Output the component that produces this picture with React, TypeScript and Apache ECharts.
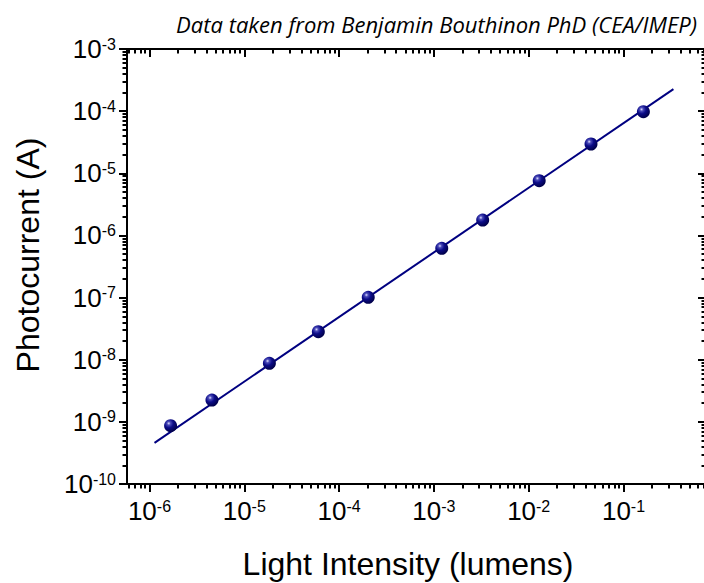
import React, { useEffect, useRef } from "react";
import * as echarts from "echarts";

// ---- data ----
const intensity = [1.67e-6, 4.56e-6, 1.84e-5, 6.04e-5, 2.03e-4, 1.21e-3, 3.27e-3, 1.29e-2, 4.54e-2, 0.162];
const photocurrent = [8.67e-10, 2.24e-9, 8.75e-9, 2.82e-8, 1.01e-7, 6.21e-7, 1.77e-6, 7.6e-6, 2.96e-5, 9.8e-5];
const fitIntensity = [1.13e-6, 0.336];
const fitCurrent = [4.6e-10, 2.26e-4];

// ---- axes (log10 units) ----
const xDecades = [-6, -5, -4, -3, -2, -1];
const yDecades = [-10, -9, -8, -7, -6, -5, -4, -3];
const minorMultipliers = [2, 3, 4, 5, 6, 7, 8, 9];
const xRange = [-6.237, -0.13];
const yRange = [-10, -3];

const titleText = "Data taken from Benjamin Bouthinon PhD (CEA/IMEP)";
const xTitle = "Light Intensity (lumens)";
const yTitle = "Photocurrent (A)";

function minorTicks(range: number[]) {
  const out: number[] = [];
  for (let d = Math.floor(range[0]) - 1; d <= Math.ceil(range[1]); d++) {
    for (const m of minorMultipliers) {
      const v = d + Math.log10(m);
      if (v > range[0] && v < range[1]) out.push(v);
    }
  }
  return out;
}

const FONT = "Liberation Sans";
const NAVY = "#000080";

const rich = {
  base: { fontSize: 26, lineHeight: 26, fontFamily: FONT, color: "#000", verticalAlign: "bottom" },
  sup: { fontSize: 16, lineHeight: 16, fontFamily: FONT, color: "#000", verticalAlign: "top", padding: [0, 0, 17, 0] },
};
const fmt = (v: number) => `{base|10}{sup|${Math.round(v)}}`;

export default function App() {
  const ref = useRef<HTMLDivElement>(null);
  useEffect(() => {
    if (!ref.current) return;
    const chart = echarts.init(ref.current, undefined, { renderer: "svg" });
    const gridBox = { left: 127, top: 49, width: 579, height: 435, outerBoundsMode: "none", containLabel: false };
    const xMinor = minorTicks(xRange);
    const yMinor = minorTicks(yRange);
    const lineStyle = { color: "#000", width: 2 };

    const labelBase = { fontSize: 26, fontFamily: FONT, color: "#000", rich };

    const mkX = (gridIndex: number, position: string, major: boolean, showLine: boolean, inside: boolean, labels: boolean) => ({
      type: "value",
      gridIndex,
      position,
      min: xRange[0],
      max: xRange[1],
      axisLine: { show: showLine, onZero: false, lineStyle },
      axisTick: {
        show: true,
        inside,
        length: major ? 8 : 4.5,
        lineStyle: { color: "#000", width: 2 },
        customValues: major ? xDecades : xMinor,
      },
      axisLabel: labels
        ? { show: true, ...labelBase, customValues: xDecades, formatter: fmt, margin: 14, showMinLabel: true, showMaxLabel: true }
        : { show: false },
      splitLine: { show: false },
    });
    const mkY = (gridIndex: number, position: string, major: boolean, showLine: boolean, inside: boolean, labels: boolean) => ({
      type: "value",
      gridIndex,
      position,
      min: yRange[0],
      max: yRange[1],
      axisLine: { show: showLine, onZero: false, lineStyle },
      axisTick: {
        show: true,
        inside,
        length: major ? 8 : 4.5,
        lineStyle: { color: "#000", width: 2 },
        customValues: major ? yDecades : yMinor,
      },
      axisLabel: labels
        ? { show: true, ...labelBase, customValues: yDecades, formatter: fmt, margin: 11, showMinLabel: true, showMaxLabel: true }
        : { show: false },
      splitLine: { show: false },
    });

    const sphere = new echarts.graphic.RadialGradient(0.36, 0.32, 0.68, [
      { offset: 0, color: "#dcdcff" },
      { offset: 0.2, color: "#4a4ab8" },
      { offset: 0.5, color: "#0c0c88" },
      { offset: 1, color: "#00004a" },
    ]);

    chart.setOption({
      animation: false,
      backgroundColor: "#fff",
      grid: [0, 1, 2, 3].map(() => ({ ...gridBox })),
      xAxis: [
        mkX(0, "bottom", true, true, false, true),
        mkX(1, "top", true, true, true, false),
        mkX(2, "bottom", false, false, false, false),
        mkX(3, "top", false, false, true, false),
      ],
      yAxis: [
        mkY(0, "left", true, true, false, true),
        mkY(1, "right", true, true, true, false),
        mkY(2, "left", false, false, false, false),
        mkY(3, "right", false, false, true, false),
      ],
      series: [
        {
          type: "line",
          xAxisIndex: 0,
          yAxisIndex: 0,
          data: fitIntensity.map((x, i) => [Math.log10(x), Math.log10(fitCurrent[i])]),
          showSymbol: false,
          lineStyle: { color: NAVY, width: 2 },
          z: 2,
        },
        {
          type: "scatter",
          xAxisIndex: 0,
          yAxisIndex: 0,
          data: intensity.map((x, i) => [Math.log10(x), Math.log10(photocurrent[i])]),
          symbol: "circle",
          symbolSize: 13,
          itemStyle: { color: sphere, opacity: 1 },
          z: 3,
        },
      ],
      graphic: [
        {
          type: "text",
          right: 7,
          top: 13,
          style: { text: titleText, font: "italic 22px 'Open Sans', Lato, sans-serif", fill: "#000" },
        },
        {
          type: "text",
          x: 408,
          y: 564,
          style: { text: xTitle, font: `32px '${FONT}', Arial, sans-serif`, fill: "#000", textAlign: "center", textVerticalAlign: "middle" },
        },
        {
          type: "text",
          x: 28,
          y: 255,
          rotation: Math.PI / 2,
          style: { text: yTitle, font: `32px '${FONT}', Arial, sans-serif`, fill: "#000", textAlign: "center", textVerticalAlign: "middle" },
        },
      ],
    });
    return () => chart.dispose();
  }, []);
  return <div ref={ref} style={{ position: "absolute", left: 0, top: 0, width: 704, height: 583 }} />;
}
